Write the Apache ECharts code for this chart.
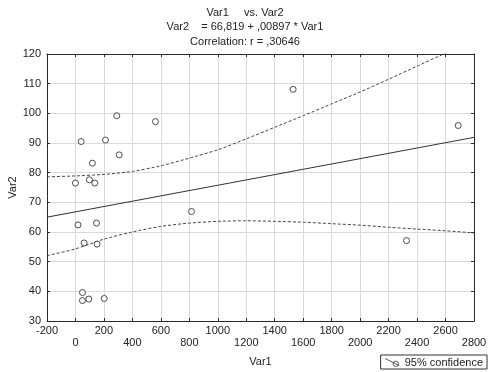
<!DOCTYPE html>
<html>
<head>
<meta charset="utf-8">
<script src="https://cdn.jsdelivr.net/npm/echarts@6/dist/echarts.min.js"></script>
<style>
html,body{margin:0;padding:0;background:#fff;}
#chart{width:490px;height:372px;}
</style>
</head>
<body>
<div id="chart"></div>
<script>
// Scatter data
var var1 = [0, 40, 290, 562, 211, 307, 119, 98, 136, 18, 148, 61, 152, 815, 49, 49, 94, 202, 1529, 2689, 2326];
var var2 = [76.5, 90.5, 99.2, 97.2, 91, 86, 83.2, 77.6, 76.5, 62.4, 63, 56.3, 55.9, 66.9, 39.6, 36.9, 37.4, 37.6, 108.1, 95.9, 57.1];

// Regression line (Var2 = 66,819 + ,00897 * Var1)
var fitX = [-200, 2800];
var fitY = [65.0, 91.9];

// 95% confidence bands
var bandX = [-200, 0, 200, 400, 600, 800, 1000, 1200, 1400, 1600, 1800, 2000, 2200, 2400, 2600, 2800];
var upperBand = [78.6, 78.9, 79.4, 80.4, 82.3, 84.9, 87.7, 91.4, 95.3, 99.2, 103.2, 107.2, 111.5, 115.9, 120.3, 124.6];
var lowerBand = [52.0, 54.3, 57.6, 60.0, 61.9, 63.0, 63.6, 63.8, 63.6, 63.3, 62.8, 62.3, 61.6, 61.0, 60.4, 59.7];

var titleLines = ['Var1     vs. Var2', 'Var2    = 66,819 + ,00897 * Var1', 'Correlation: r = ,30646'];
var xTicks = {min: -200, max: 2800, interval: 200};
var yTicks = {min: 30, max: 120, interval: 10};

var FONT = "'Liberation Sans', Arial, sans-serif";
var dark = '#2a2a2a';

function zip(a, b) { return a.map(function (v, i) { return [v, b[i]]; }); }

var chart = echarts.init(document.getElementById('chart'), null, {renderer: 'canvas'});

var option = {
  backgroundColor: '#ffffff',
  animation: false,
  textStyle: {fontFamily: FONT},
  title: {
    text: titleLines.join('\n'),
    left: 'center',
    top: 1,
    textStyle: {fontFamily: FONT, fontSize: 11, fontWeight: 'normal', color: '#222', lineHeight: 14.3}
  },
  legend: {
    right: 3,
    bottom: 3,
    padding: [2, 4, 1, 4],
    borderColor: '#333',
    borderWidth: 1,
    itemWidth: 15,
    itemHeight: 8,
    itemGap: 4,
    textStyle: {fontFamily: FONT, fontSize: 11, color: '#222'},
    data: [{
      name: '95% confidence',
      icon: 'path://M0,0 L16,8 M12,6 m-3,0 a3,3 0 1,0 6,0 a3,3 0 1,0 -6,0',
      itemStyle: {color: 'transparent', borderColor: '#333', borderWidth: 1}
    }]
  },
  grid: {left: 47, right: 16, top: 54, bottom: 51, containLabel: false, outerBoundsMode: 'none'},
  xAxis: [{
    type: 'value',
    min: xTicks.min, max: xTicks.max, interval: xTicks.interval,
    name: 'Var1',
    nameLocation: 'middle',
    nameGap: 35,
    nameMoveOverlap: false,
    nameTextStyle: {fontFamily: FONT, fontSize: 11, color: '#222'},
    axisLine: {show: true, onZero: false, lineStyle: {color: dark, width: 1}},
    axisTick: {show: true, inside: true, length: 3, lineStyle: {color: dark}},
    axisLabel: {
      margin: 4, fontFamily: FONT, fontSize: 11, color: '#222', lineHeight: 12,
      showMinLabel: true, showMaxLabel: true,
      formatter: function (v) {
        var idx = Math.round((v - xTicks.min) / xTicks.interval);
        return idx % 2 === 1 ? '\n' + v : String(v);
      }
    },
    splitLine: {show: true, lineStyle: {color: '#dadada', width: 1}}
  }, {
    type: 'value',
    position: 'top',
    min: xTicks.min, max: xTicks.max, interval: xTicks.interval,
    axisLine: {show: true, onZero: false, lineStyle: {color: dark, width: 1}},
    axisTick: {show: true, inside: true, length: 3, lineStyle: {color: dark}},
    axisLabel: {show: false},
    splitLine: {show: false}
  }],
  yAxis: [{
    type: 'value',
    min: yTicks.min, max: yTicks.max, interval: yTicks.interval,
    name: 'Var2',
    nameLocation: 'middle',
    nameGap: 29,
    nameMoveOverlap: false,
    nameTextStyle: {fontFamily: FONT, fontSize: 11, color: '#222'},
    axisLine: {show: true, onZero: false, lineStyle: {color: dark, width: 1}},
    axisTick: {show: true, inside: true, length: 3, lineStyle: {color: dark}},
    axisLabel: {margin: 6, fontFamily: FONT, fontSize: 11, color: '#222', showMinLabel: true, showMaxLabel: true},
    splitLine: {show: true, lineStyle: {color: '#dadada', width: 1}}
  }, {
    type: 'value',
    position: 'right',
    min: yTicks.min, max: yTicks.max, interval: yTicks.interval,
    axisLine: {show: true, onZero: false, lineStyle: {color: dark, width: 1}},
    axisTick: {show: true, inside: true, length: 3, lineStyle: {color: dark}},
    axisLabel: {show: false},
    splitLine: {show: false}
  }],
  series: [{
    name: 'upper',
    type: 'line',
    data: zip(bandX, upperBand),
    showSymbol: false,
    smooth: 0.2,
    clip: true,
    lineStyle: {color: '#444', width: 1, type: [3, 2]},
    silent: true
  }, {
    name: 'lower',
    type: 'line',
    data: zip(bandX, lowerBand),
    showSymbol: false,
    smooth: 0.2,
    clip: true,
    lineStyle: {color: '#444', width: 1, type: [3, 2]},
    silent: true
  }, {
    name: 'fit',
    type: 'line',
    data: zip(fitX, fitY),
    showSymbol: false,
    lineStyle: {color: '#333', width: 1},
    silent: true
  }, {
    name: '95% confidence',
    type: 'scatter',
    data: zip(var1, var2),
    symbol: 'circle',
    symbolSize: 6,
    itemStyle: {color: '#fff', borderColor: '#222', borderWidth: 1},
    z: 5
  }]
};

chart.setOption(option);
</script>
</body>
</html>
